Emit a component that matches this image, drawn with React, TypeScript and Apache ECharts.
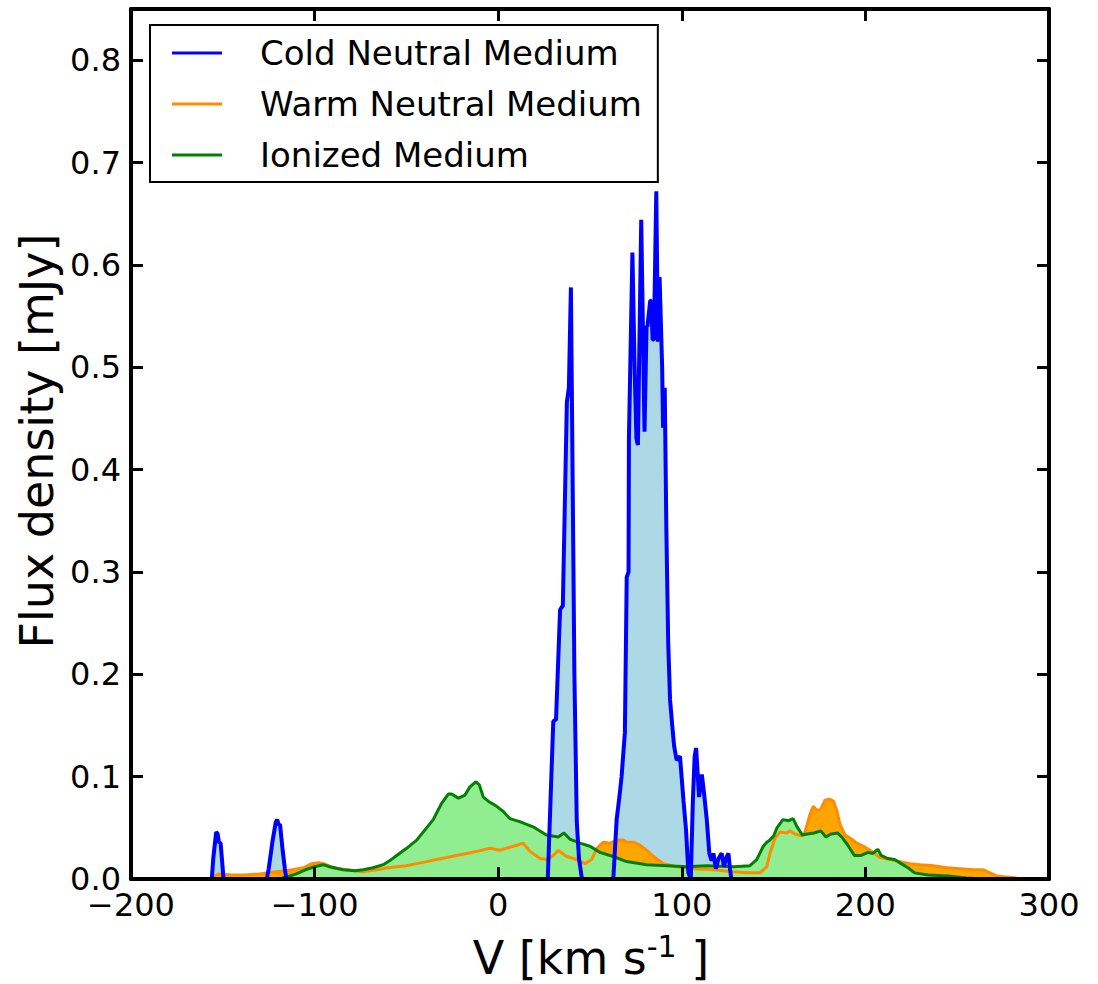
import React, { useEffect, useRef } from "react";
import * as echarts from "echarts";

const FONT = '"DejaVu Sans", "Noto Sans", sans-serif';

const seriesNames = ["Cold Neutral Medium", "Warm Neutral Medium", "Ionized Medium"];
const lineColors = ["#0000ff", "#ff8c00", "#008000"];
const fillColors = ["#add8e6", "#ffa500", "#90ee90"];

const xTicks = [-200, -100, 0, 100, 200, 300];
const yTicks = [0, 0.1, 0.2, 0.3, 0.4, 0.5, 0.6, 0.7, 0.8];

// [V km/s, flux mJy]
const coldNeutral: [number, number][] = [
  [-200, 0], [-156, 0], [-155.2, 0.02], [-153.6, 0.046], [-152.8, 0.044], [-152.1, 0.036], [-151.2, 0.035], [-150.4, 0.018], [-149.6, 0],
  [-126, 0], [-125, 0.01], [-123, 0.036], [-121.2, 0.055], [-120.4, 0.058], [-119.6, 0.053], [-118.8, 0.053], [-117.4, 0.028], [-116.2, 0.01], [-115.4, 0],
  [27, 0], [30, 0.154], [31.5, 0.156], [33.7, 0.263], [35.2, 0.267], [37.4, 0.466], [38.5, 0.48], [39.6, 0.578], [40.2, 0.46], [41.5, 0.2], [42.8, 0.056], [44, 0.02], [45.6, 0],
  [62.7, 0], [64.5, 0.058], [66, 0.08], [67.2, 0.1], [69, 0.143], [70, 0.295], [71, 0.3], [71.2, 0.43], [73.1, 0.612], [74.3, 0.5], [75.3, 0.43], [76.1, 0.424],
  [77.9, 0.644], [79.7, 0.437], [80.8, 0.54], [81.3, 0.54], [82.8, 0.565], [83.3, 0.565], [84.1, 0.527], [84.8, 0.527], [86.1, 0.672], [87, 0.525],
  [87.9, 0.588], [89.3, 0.5], [89.8, 0.441], [90.7, 0.48], [91.6, 0.341], [92.6, 0.231], [93.6, 0.175], [95, 0.146], [95.8, 0.13], [97.2, 0.116],
  [99, 0.12], [100.9, 0.077], [102.3, 0.048], [103.6, 0.006], [104.9, 0], [106, 0.075], [107, 0.12], [107.8, 0.128], [109.4, 0.08], [110.9, 0.102],
  [112.1, 0.084], [113.6, 0.058], [115, 0.025], [116.2, 0.018], [117.2, 0.025], [118.6, 0.01], [120, 0.02], [121.7, 0.025], [123, 0.012], [124, 0.02],
  [125.4, 0.025], [126.3, 0.009], [127, 0], [300, 0],
];

const warmNeutral: [number, number][] = [
  [-200, 0], [-156, 0], [-154.5, 0.003], [-152, 0.005], [-145, 0.004], [-138, 0.004], [-130, 0.005], [-121, 0.007], [-112, 0.009], [-106, 0.011],
  [-101.6, 0.015], [-98, 0.016], [-95, 0.015], [-90, 0.011], [-82.5, 0.009], [-74, 0.007], [-66, 0.009], [-60, 0.011], [-55, 0.012], [-50, 0.013],
  [-44.5, 0.015], [-39, 0.017], [-33.6, 0.019], [-28, 0.021], [-22.7, 0.023], [-17, 0.025], [-11.6, 0.027], [-4.5, 0.03], [0.8, 0.028], [6.3, 0.031],
  [10, 0.033], [13.6, 0.035], [17.3, 0.027], [22.8, 0.02], [27.3, 0.019], [30, 0.023], [32.7, 0.028], [37.3, 0.022], [42.7, 0.019], [47.3, 0.015],
  [50.9, 0.019], [53.7, 0.03], [57.3, 0.036], [61, 0.035], [64.5, 0.038], [68.2, 0.038], [70, 0.036], [73.6, 0.036], [77.2, 0.033], [80.9, 0.028],
  [84.5, 0.022], [90, 0.015], [97.2, 0.012], [106.3, 0.01], [117.2, 0.009], [128.1, 0.007], [135.4, 0.006], [142.6, 0.006], [146.3, 0.012], [148, 0.025],
  [150.8, 0.04], [153.5, 0.046], [157.1, 0.045], [158.9, 0.047], [161.6, 0.044], [165.3, 0.042], [167.1, 0.046], [169.8, 0.063], [171.6, 0.071], [173.1, 0.068],
  [175.3, 0.067], [178, 0.077], [180.4, 0.078], [182.6, 0.076], [184.4, 0.067], [186.2, 0.053], [188.9, 0.043], [191.6, 0.04], [195.3, 0.035], [198.9, 0.032],
  [203.4, 0.027], [208, 0.021], [213.4, 0.019], [218.9, 0.017], [224.3, 0.015], [229.8, 0.014], [237, 0.013], [244.3, 0.011], [251.5, 0.01], [258.8, 0.009],
  [264.2, 0.009], [267.9, 0.006], [271.5, 0.003], [277, 0.002], [282.4, 0.001], [290, 0], [300, 0],
];

const ionized: [number, number][] = [
  [-200, 0], [-120, 0], [-115, 0.002], [-110, 0.005], [-105, 0.009], [-100, 0.012], [-95.4, 0.014], [-91.8, 0.012], [-84.5, 0.009], [-78, 0.008],
  [-73.6, 0.009], [-68.1, 0.011], [-62.6, 0.014], [-59, 0.018], [-55.3, 0.023], [-49.9, 0.03], [-44.4, 0.038], [-39, 0.05], [-35.4, 0.058], [-30.8, 0.074],
  [-27.2, 0.083], [-25.4, 0.083], [-21.7, 0.079], [-18.1, 0.082], [-15.4, 0.09], [-12.1, 0.095], [-10.3, 0.092], [-8.1, 0.08], [-5.4, 0.076], [-0.8, 0.071],
  [2.8, 0.066], [6.3, 0.059], [11.7, 0.056], [19, 0.051], [26.3, 0.043], [32.7, 0.041], [35.8, 0.045], [39, 0.039], [44.5, 0.035], [50, 0.032],
  [55.4, 0.026], [62.7, 0.022], [70, 0.017], [80.9, 0.014], [91.8, 0.013], [102.7, 0.012], [113.6, 0.013], [128.2, 0.012], [137.1, 0.013], [140.8, 0.019],
  [144.4, 0.032], [146.3, 0.036], [148, 0.038], [150, 0.042], [151.8, 0.05], [155.1, 0.058], [158.2, 0.057], [160.6, 0.059], [162.8, 0.051], [165.6, 0.043],
  [168.3, 0.044], [172, 0.045], [175.7, 0.047], [178.5, 0.041], [181.2, 0.044], [184.9, 0.045], [187.6, 0.04], [190.4, 0.033], [194, 0.023], [197.7, 0.023],
  [201.3, 0.026], [204, 0.025], [206.8, 0.029], [208.6, 0.023], [212.2, 0.02], [215.9, 0.019], [219.5, 0.015], [223.2, 0.011], [226.8, 0.006], [234.1, 0.004],
  [245, 0.003], [255, 0.001], [265, 0], [300, 0],
];

const allData = [coldNeutral, warmNeutral, ionized];

export default function App() {
  const ref = useRef<HTMLDivElement>(null);

  useEffect(() => {
    document.body.style.margin = "0";
    if (!ref.current) return;
    const chart = echarts.init(ref.current, undefined, { renderer: "svg" });

    const axisLine = { show: true, onZero: false, lineStyle: { color: "#000", width: 4 } };
    const axisTick = { show: true, inside: true, length: 12, lineStyle: { color: "#000", width: 3 } };

    const fillSeries = [0, 1, 2].map((i) => ({
      name: seriesNames[i] + " fill",
      type: "line",
      data: allData[i],
      showSymbol: false,
      symbol: "none",
      lineStyle: { width: 0, opacity: 0 },
      areaStyle: { color: fillColors[i], opacity: 1 },
      z: 1,
      silent: true,
    }));
    const lineOrder = [1, 2, 0];
    const lineSeries = lineOrder.map((i) => ({
      name: seriesNames[i],
      type: "line",
      data: allData[i],
      color: lineColors[i],
      showSymbol: false,
      symbol: "none",
      lineStyle: { width: i === 0 ? 4 : 3, color: lineColors[i] },
      z: 2,
      silent: true,
    }));

    const xBase = { type: "value", min: xTicks[0], max: xTicks[xTicks.length - 1], interval: 100, z: 5 };
    const yBase = { type: "value", min: 0, max: 0.85, interval: 0.1, z: 5 };

    chart.setOption({
      animation: false,
      grid: { left: 131, right: 49, top: 9, bottom: 105 },
      legend: {
        data: seriesNames,
        orient: "vertical",
        left: 150,
        top: 25,
        backgroundColor: "#fff",
        borderColor: "#000",
        borderWidth: 2,
        borderRadius: 0,
        padding: [8, 16, 7, 22],
        itemGap: 11,
        itemWidth: 50,
        itemHeight: 3,
        icon: "rect",
        selectedMode: false,
        textStyle: { fontFamily: FONT, fontSize: 34, color: "#000", lineHeight: 40, padding: [0, 0, 0, 33] },
        z: 10,
      },
      xAxis: [
        {
          ...xBase,
          position: "bottom",
          axisLine,
          axisTick,
          splitLine: { show: false },
          axisLabel: {
            margin: 10,
            fontFamily: FONT,
            fontSize: 32,
            color: "#000",
            formatter: (v: number) => String(v).replace("-", "\u2212"),
          },
        },
        {
          ...xBase,
          position: "top",
          axisLine,
          axisTick,
          splitLine: { show: false },
          axisLabel: { show: false },
        },
      ],
      yAxis: [
        {
          ...yBase,
          position: "left",
          axisLine,
          axisTick,
          splitLine: { show: false },
          axisLabel: {
            margin: 10,
            fontFamily: FONT,
            fontSize: 32,
            color: "#000",
            showMaxLabel: false,
            formatter: (v: number) => (yTicks.some((t) => Math.abs(t - v) < 1e-6) ? v.toFixed(1) : ""),
          },
        },
        {
          ...yBase,
          position: "right",
          axisLine,
          axisTick,
          splitLine: { show: false },
          axisLabel: { show: false },
        },
      ],
      graphic: [
        {
          type: "text",
          x: 37,
          y: 441,
          rotation: Math.PI / 2,
          style: {
            text: "Flux density [mJy]",
            fontFamily: FONT,
            fontSize: 46,
            fill: "#000",
            align: "center",
            verticalAlign: "middle",
            textAlign: "center",
            textVerticalAlign: "middle",
          },
        },
        {
          type: "text",
          x: 591,
          y: 958,
          style: {
            text: "{a|V [km s}{b|-1}{a| ]}",
            fill: "#000",
            align: "center",
            verticalAlign: "middle",
            textAlign: "center",
            textVerticalAlign: "middle",
            rich: {
              a: { fontFamily: FONT, fontSize: 46, lineHeight: 54, fill: "#000" },
              b: { fontFamily: FONT, fontSize: 30, lineHeight: 30, verticalAlign: "top", fill: "#000" },
            },
          },
        },
      ],
      series: [...fillSeries, ...lineSeries],
    });

    return () => chart.dispose();
  }, []);

  return <div ref={ref} style={{ position: "absolute", left: 0, top: 0, width: 1098, height: 984 }} />;
}
